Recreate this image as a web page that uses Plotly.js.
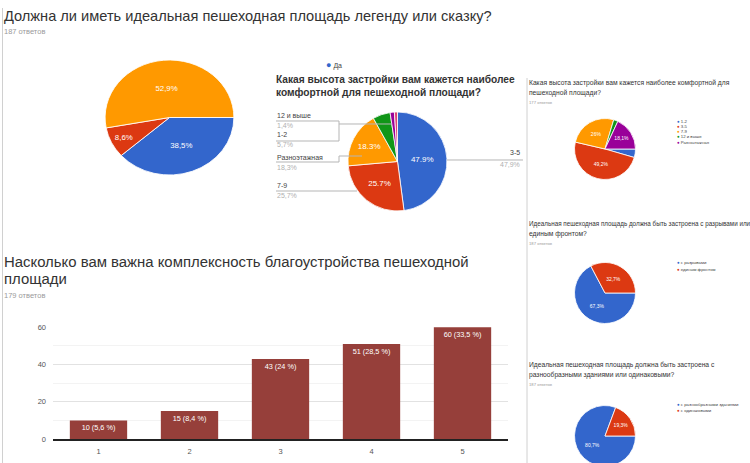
<!DOCTYPE html>
<html><head><meta charset="utf-8">
<script src="https://cdn.plot.ly/plotly-3.0.1.min.js"></script>
<style>
html,body{margin:0;padding:0;overflow:hidden;background:#fff;width:750px;height:463px;}
#main{position:absolute;left:0;top:0;width:750px;height:480px;}
#pieL{position:absolute;left:112px;top:60px;width:115px;height:115px;transform:scaleX(1.12);transform-origin:center center;}
</style></head><body>
<div id="main"></div><div id="pieL"></div>
<script>
// ---------- DATA ----------
// Q1 (top-left pie)
const q1Title = 'Должна ли иметь идеальная пешеходная площадь легенду или сказку?';
const q1Count = '187 ответов';
const q1Labels = ['Да', 'Нет', 'Не знаю'];
const q1Values = [38.5, 8.6, 52.9];
const q1Text = ['38,5%', '8,6%', '52,9%'];

// Q2 (middle pie)
const q2TitleLines = ['Какая высота застройки вам кажется наиболее', 'комфортной для пешеходной площади?'];
const q2Labels = ['3-5', '7-9', 'Разноэтажная', '1-2', '12 и выше', 'другое'];
const q2Values = [47.9, 25.7, 18.3, 5.7, 1.4, 1.0];
const q2Inside = ['47.9%', '25.7%', '18.3%', '', '', ''];
const q2Pct = ['47,9%', '25,7%', '18,3%', '5,7%', '1,4%', ''];

// Q3 (bar chart)
const q3TitleLines = ['Насколько вам важна комплексность благоустройства пешеходной', 'площади'];
const q3Count = '179 ответов';
const q3Cats = ['1', '2', '3', '4', '5'];
const q3Values = [10, 15, 43, 51, 60];
const q3Pct = ['5,6', '8,4', '24', '28,5', '33,5'];

// Right panel 1
const r1TitleLines = ['Какая высота застройки вам кажется наиболее комфортной для', 'пешеходной площади?'];
const r1Count = '177 ответов';
const r1Labels = ['1-2', '3-5', '7-9', '12 и выше', 'Разноэтажная'];
const r1Values = [4.5, 49.2, 26.0, 2.3, 18.1];
const r1Text = ['', '49,2%', '26%', '', '18,1%'];

// Right panel 2
const r2TitleLines = ['Идеальная пешеходная площадь должна быть застроена с разрывами или', 'единым фронтом?'];
const r2Count = '187 ответов';
const r2Labels = ['с разрывами', 'единым фронтом'];
const r2Values = [67.3, 32.7];
const r2Text = ['67,3%', '32,7%'];

// Right panel 3
const r3TitleLines = ['Идеальная пешеходная площадь должна быть застроена с', 'разнообразными зданиями или одинаковыми?'];
const r3Count = '187 ответов';
const r3Labels = ['с разнообразными зданиями', 'с одинаковыми'];
const r3Values = [80.7, 19.3];
const r3Text = ['80,7%', '19,3%'];

// ---------- STYLE / LAYOUT ----------
const BLUE = '#3366cc', RED = '#dc3912', ORANGE = '#ff9900', GREEN = '#109618', PURPLE = '#990099', PINK = '#dd4477';
const FONT = 'Arial, "Liberation Sans", sans-serif';
const W = 750, H = 480;
const X = p => p / W;
const Y = p => 1 - p / H;
function dom(cx, cy, d) { return { x: [X(cx - d / 2), X(cx + d / 2)], y: [Y(cy + d / 2), Y(cy - d / 2)] }; }
function ann(x, y, text, size, color, extra) {
  return Object.assign({ xref: 'paper', yref: 'paper', x: X(x), y: Y(y), text: text, showarrow: false,
    xanchor: 'left', yanchor: 'middle', borderpad: 0, font: { size: size, color: color, family: FONT } }, extra || {});
}
function pieTrace(labels, values, text, colors, domain, rotation, size) {
  return { type: 'pie', labels: labels, values: values, text: text, textinfo: 'text', textposition: 'inside',
    insidetextorientation: 'horizontal', sort: false, direction: 'clockwise', rotation: rotation,
    marker: { colors: colors, line: { color: '#ffffff', width: 0.8 } },
    textfont: { color: '#ffffff', size: size, family: FONT }, domain: domain, showlegend: false, hoverinfo: 'label+percent' };
}

const traces = [
  pieTrace(q2Labels, q2Values, q2Inside, [BLUE, RED, ORANGE, GREEN, PURPLE, PINK], dom(397.5, 161.5, 99), 0, 8),
  pieTrace(r1Labels, r1Values, r1Text, [BLUE, RED, ORANGE, GREEN, PURPLE], dom(605, 149, 61), 90, 5),
  pieTrace(r2Labels, r2Values, r2Text, [BLUE, RED], dom(605, 293, 61), 90, 5),
  pieTrace(r3Labels, r3Values, r3Text, [BLUE, RED], dom(605, 436, 61), 90, 5),
  { type: 'bar', x: q3Cats, y: q3Values, text: q3Values.map((v, i) => v + ' (' + q3Pct[i] + ' %)'),
    textposition: 'inside', insidetextanchor: 'end', textangle: 0, constraintext: 'none',
    textfont: { color: '#ffffff', size: 7.3, family: FONT }, marker: { color: '#963f3a' },
    hoverinfo: 'x+y', showlegend: false, xaxis: 'x', yaxis: 'y' }
];

const annotations = [];
annotations.push(ann(3, 16, q1Title, 14.6, '#333333'));
annotations.push(ann(3, 32, q1Count, 7.5, '#9a9a9a'));
// legend of Q1 (partially visible)
annotations.push(ann(325, 65, '<span style="color:' + BLUE + ';font-size:9px">●</span> ' + q1Labels[0], 7, '#444444'));
// Q2 title
q2TitleLines.forEach((t, i) => annotations.push(ann(275, 80 + i * 12.5, '<b>' + t + '</b>', 10.2, '#333333')));
// Q2 outside labels (left side)
const q2LeftOrder = [4, 3, 2, 1];
const q2LeftY = [115, 134, 157, 185];
q2LeftOrder.forEach((k, i) => {
  annotations.push(ann(276, q2LeftY[i], q2Labels[k], 7, '#444444'));
  annotations.push(ann(276, q2LeftY[i] + 10.5, q2Pct[k], 7, '#b0b0b0'));
});
annotations.push(ann(521, 152, q2Labels[0], 7, '#444444', { xanchor: 'right' }));
annotations.push(ann(521, 164, q2Pct[0], 7, '#b0b0b0', { xanchor: 'right' }));
// Q3 title
q3TitleLines.forEach((t, i) => annotations.push(ann(3, 262 + i * 17, t, 14.9, '#333333')));
annotations.push(ann(3, 295, q3Count, 7.5, '#9a9a9a'));

// right panels
function panel(lines, count, labels, colors, top, legTop, step, sizes) {
  lines.forEach((t, i) => annotations.push(ann(528, top + i * 10, t, sizes[i], '#333333')));
  annotations.push(ann(528, top + 19, count, 4.2, '#9a9a9a'));
  labels.forEach((l, i) => annotations.push(ann(676, legTop + i * step,
    '<span style="color:' + colors[i] + '">●</span> ' + l, 4.3, '#444444')));
}
panel(r1TitleLines, r1Count, r1Labels, [BLUE, RED, ORANGE, GREEN, PURPLE], 83, 121, 5.3, [6.7, 6.7]);
panel(r2TitleLines, r2Count, r2Labels, [BLUE, RED], 224, 262, 7, [6.3, 6.7]);
panel(r3TitleLines, r3Count, r3Labels, [BLUE, RED], 365, 404, 6.2, [6.7, 6.7]);

function path(pts) { return pts.map((p, i) => (i ? 'L' : 'M') + X(p[0]).toFixed(5) + ',' + Y(p[1]).toFixed(5)).join(' '); }
const lineStyle = { color: '#b5b5b5', width: 1 };
const shapes = [
  { type: 'line', xref: 'paper', yref: 'paper', x0: X(2.5), x1: X(2.5), y0: Y(8), y1: Y(463), line: { color: '#d0d0d0', width: 1 } },
  { type: 'line', xref: 'paper', yref: 'paper', x0: X(527), x1: X(527), y0: Y(78), y1: Y(463), line: { color: '#d0d0d0', width: 1 } },
  { type: 'path', xref: 'paper', yref: 'paper', path: path([[276, 121], [339, 121], [339, 141], [276, 141]]), line: lineStyle },
  { type: 'path', xref: 'paper', yref: 'paper', path: path([[339, 124], [392, 124]]), line: lineStyle },
  { type: 'path', xref: 'paper', yref: 'paper', path: path([[276, 162], [339, 162], [339, 156], [362, 156]]), line: lineStyle },
  { type: 'path', xref: 'paper', yref: 'paper', path: path([[276, 191], [357, 191]]), line: lineStyle },
  { type: 'path', xref: 'paper', yref: 'paper', path: path([[447, 160], [523, 160]]), line: lineStyle }
];

const layout = {
  width: W, height: H, margin: { l: 0, r: 0, t: 0, b: 0 },
  paper_bgcolor: '#ffffff', plot_bgcolor: '#ffffff', showlegend: false,
  font: { family: FONT },
  bargap: 0.37,
  xaxis: { domain: [X(53), X(508)], type: 'category', showgrid: false, zeroline: false,
    showline: true, linecolor: '#222222', linewidth: 2, ticks: '', ticklabelstandoff: 4,
    tickfont: { size: 7.5, color: '#555555' }, fixedrange: true },
  yaxis: { domain: [Y(439), Y(327)], range: [0, 60.2], dtick: 20, showgrid: true, gridcolor: '#e2e2e2',
    zeroline: false, ticks: '', ticklabelstandoff: 6, tickfont: { size: 7.5, color: '#555555' },
    minor: { dtick: 10, showgrid: true, gridcolor: '#f3f3f3' }, fixedrange: true },
  annotations: annotations,
  shapes: shapes
};
Plotly.newPlot('main', traces, layout, { displayModeBar: false, staticPlot: true });

// Top-left pie (stretched horizontally like the reference)
Plotly.newPlot('pieL', [pieTrace(q1Labels, q1Values, q1Text, [BLUE, RED, ORANGE], { x: [0, 1], y: [0, 1] }, 90, 7)],
  { width: 115, height: 115, margin: { l: 0, r: 0, t: 0, b: 0 }, paper_bgcolor: 'rgba(0,0,0,0)', showlegend: false },
  { displayModeBar: false, staticPlot: true });
</script>
</body></html>
